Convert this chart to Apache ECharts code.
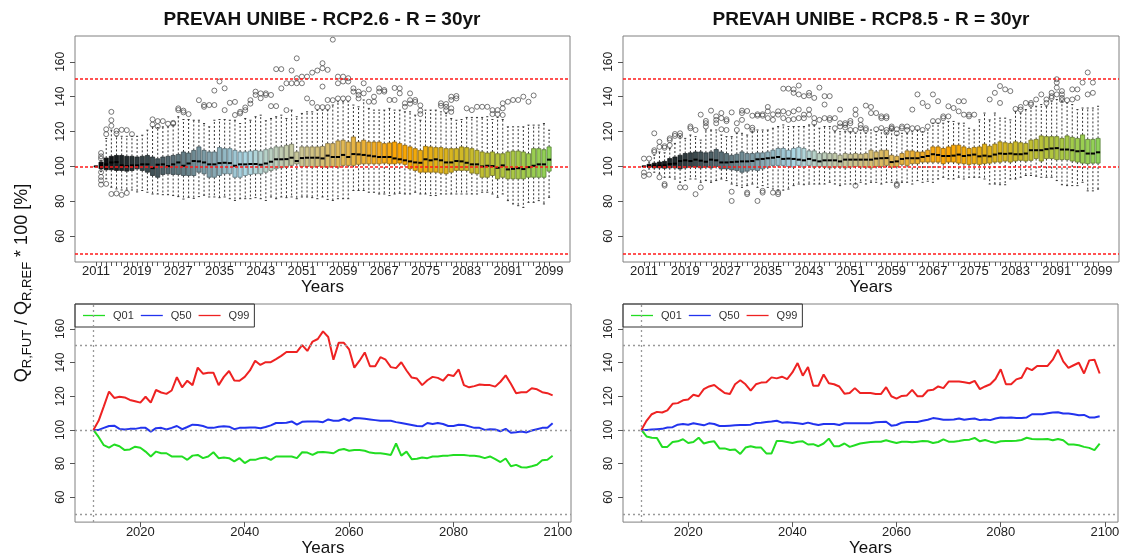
<!DOCTYPE html>
<html lang="en">
<head>
<meta charset="UTF-8">
<title>PREVAH UNIBE - R = 30yr</title>
<style>
    html, body { margin: 0; background: #fff; }
    #chart { width: 1123px; height: 558px; }
</style>
</head>
<body>
<div id="chart"></div>
<script src="https://cdn.jsdelivr.net/npm/echarts@6/dist/echarts.min.js"></script>
<script>
// years 2011..2099, one box per year
var years = [];
for (var yr = 2011; yr <= 2099; yr++) years.push(yr);
var boxLabelYears = [2011, 2019, 2027, 2035, 2043, 2051, 2059, 2067, 2075, 2083, 2091, 2099];
var lineLabelYears = [2020, 2040, 2060, 2080, 2100];
var yTicks = [60, 80, 100, 120, 140, 160];
var thresholds = [50, 100, 150];

// ---- RCP2.6 ----
var rcp26Q01 = [100,95.8,90.9,89.4,91.3,90.3,88,88.4,90,89.4, 87.1,84.2,87.1,86.1,86.1,84.2,84.2,84.2,82.2,84.7, 85.1,83.2,84.2,86.7,83.2,83.6,83.2,81.3,83.2,80.3,
    82.2,82.2,83.2,83.6,82.2,84.2,84.2,84.2,84.2,83.2, 86.7,86.5,85.1,86.7,86.9,86.5,86.1,88,88.6,87.6, 88,88,87.6,86.5,86.1,86.1,85.7,85.1,91.9,84.7,
    87.1,82.6,82.8,83.6,83.2,84.2,84.2,84.6,84.7,85.1, 85.1,85.1,84.7,84.6,84.2,83.2,84.2,82.6,80.9,83, 78.4,79.2,77.8,77.6,78.4,79.3,81.9,82.2,84.6];
var rcp26Q50 = [100,100,101.2,102.3,102.5,100.6,100.2,100.6,100.6,101.2, 101.2,99,101,101.2,100.2,101.2,102.3,100.4,101.7,103.1, 102.9,102.3,101.2,101.2,101.9,102.1,101.9,100.4,101.2,101.2,
    101.4,101.4,101,101.7,102.7,104.1,104.1,104.2,105,103.1, 104.8,105,105,105,104.6,106.2,105.4,105.4,106.6,105.4, 107.1,106.9,106.6,106.2,105.8,105.4,105.4,105.4,104.6,104.1,
    103.5,102.9,102.3,102.1,104.1,103.5,104.1,103.5,102.3,102.3, 103.1,102.9,102.1,101.2,101.2,100,100.4,100.2,99.2,100.6, 98.3,98.6,99,98.5,99.6,100.4,101.2,101.2,103.9];
var rcp26Q99 = [100,105.4,114,122.8,119,119.7,119.3,117.8,117,116.2, 119.7,116.2,123.7,122.2,121.4,123.4,131.3,125.3,129.2,126.6, 137,133.4,134,134,126.6,131.5,135,129.3,129.2,131.5,
    135.3,141.1,138.6,140.2,140.2,142,144,146.3,146.3,146.3, 150.4,146.9,152.5,154,158.5,155.2,141.7,151.7,151.7,147.9, 137,141.1,146,137.8,137.8,143.2,141.7,137.3,136.7,140.2,
    135.3,131.1,130.5,126.6,129.5,131.5,130.9,129.2,132.8,132, 135.9,126.6,125.3,126,127,126.6,126.6,125.7,128.6,132.4, 127.4,121.8,122.4,122.4,124.7,124.1,122.4,121.8,120.5];
var rcp26Low = [100,97,92.9,88.1,87.1,86.5,86.5,86.5,85.4,86.2, 85.2,84.2,84.2,83.8,83.8,83.3,82.7,81.3,82.3,81.7, 82.7,83.5,82.5,82.5,82.1,82.5,81.5,80.5,81.5,81.5,
    81.5,82.1,81.5,80.5,82.5,81.5,82.5,82.1,82.5,81.5, 82.5,82.5,82.1,81.5,82.5,81.1,80.5,81.5,81.5,81.5, 86.2,86.2,86.2,85.2,85.2,84.2,84.2,83.3,84.2,84.6,
    84.2,84.2,85.2,84.2,84.2,83.3,83.3,84.2,84.2,84.2, 84.2,84.2,84.2,84.2,84.2,85.2,85.2,84.2,82.3,84.2, 80.4,78.5,77.5,76.5,79.4,79.4,80.4,78.5,82.3];
var rcp26Box1 = [100,98.7,98.1,98.1,97.7,97.7,97.3,97.7,98.6,97.7, 96.7,94.8,93.8,95.4,95.8,95.4,95.4,94.8,94.8,94.8, 96.7,95.8,93.8,93.8,94.8,95.8,95.8,93.8,93.8,94.8,
    95.4,95.8,95.8,96.7,97.7,98.7,99.2,99.6,100.6,101.5, 100,100,99.6,100,99.6,99.6,100,99.6,100.6,100.6, 100.6,101.2,101.5,101.5,101.5,101.5,101.9,101.5,101.5,101.9,
    101.2,98.7,97.7,96.7,96.7,96.7,96.7,96.2,95.8,96.7, 97.7,97.7,97.7,96.2,95.8,93.8,93.8,94.8,92.9,93.8, 92.9,92.9,92.9,92.9,93.8,93.8,93.8,93.8,97.3];
var rcp26Box3 = [100,102.5,104.8,105.8,106.3,106.3,105.8,105.8,105.4,105.8, 106.3,105.4,104.4,105.4,105.8,106.3,106.9,108.3,107.7,109.2, 111.2,109.2,108.3,108.3,110.8,110.2,110.2,109.2,108.3,108.3,
    108.8,109.2,108.8,109.6,110.2,111.2,111.2,112.1,112.7,108.3, 111.2,111.2,111.2,111.2,111.5,113.1,113.1,114.6,115,114, 116.9,114,115,114,114,114,113.1,113.5,114,113.1,
    112.1,111.2,110.2,109.2,111.5,111.2,110.8,110.8,110.2,110.2, 110.2,111.2,110.8,110.2,109.2,108.3,107.7,108.3,107.3,107.3, 108.3,108.8,108.8,108.3,107.3,110.2,110.2,109.6,111.2];
var rcp26High = [100,103.5,116,120.8,117.3,117.3,117.3,117.3,117.3,117.9, 120.8,122.7,122.3,122.7,122.7,123.7,128.5,126.9,126.9,126.5, 126.5,124.6,122.7,126.5,126.9,126.9,126.5,126.5,124.6,127.5,
    126.5,128.5,129.4,126.2,127.5,128.5,129.4,127.5,132.3,128.5, 130.4,131.3,131.3,132.3,132.3,132.3,135.2,137.1,137.1,137.1, 135.2,134.2,138.1,133.3,132.3,132.3,132.3,133.3,132.3,132.3,
    131.3,131.3,129.4,126.5,132.3,132.3,132.3,131.3,130.4,127.5, 126.5,126.9,128.1,128.1,128.1,128.1,128.5,126.9,128.1,126.9, 122.7,122.7,122.7,122.7,123.7,123.7,123.7,124.6,120.8];
var rcp26Out = [
    [2012,104.4],[2012,105.8],[2012,107.7],[2012,96.7],[2012,94],[2012,92],[2012,89.6],
    [2013,118.5],[2013,121.3],[2013,90],[2014,131.3],[2014,126.5],[2014,123.3],[2014,84.2],
    [2015,120.4],[2015,118.8],[2015,84.5],[2016,121],[2016,83.7],[2017,120.8],[2017,84.8],[2018,118.5],
    [2022,127],[2022,124],[2023,126],[2023,123],[2024,126],[2025,124.5],[2026,125],[2026,124.5],
    [2027,133.3],[2027,132.3],[2028,132],[2028,131],[2029,130],[2031,138],[2032,134.2],[2032,135.2],
    [2033,135.2],[2034,135.2],[2034,143.5],[2035,148.7],[2036,144.8],[2036,132.3],[2037,136.5],
    [2038,137],[2038,129.5],[2039,130.4],[2039,131.3],[2040,132.3],[2040,133.8],[2041,138],[2041,136],
    [2042,142.9],[2042,141],[2043,141.9],[2043,139.1],[2044,141.9],[2044,141],[2045,141],[2045,134.6],
    [2046,155.8],[2046,134.6],[2047,155.8],[2047,144.8],[2048,147.7],[2048,132.3],[2049,147.7],[2049,155],
    [2050,150.6],[2050,147.7],[2050,162],[2051,151.5],[2051,147.7],[2052,151.5],[2052,139],
    [2053,153.8],[2053,136.5],[2054,155],[2054,134],[2055,159.2],[2055,156.3],[2055,145.8],[2055,134],
    [2056,155.4],[2056,138.1],[2056,134],[2057,172.7],[2057,138],[2058,151.5],[2058,147.7],[2058,139],
    [2059,151.5],[2059,148.7],[2059,139],[2060,150.6],[2060,148.7],[2060,139],[2061,144.8],[2061,142.9],
    [2062,142.9],[2062,141],[2062,139],[2063,147.7],[2063,141.9],[2064,144.2],[2064,137.1],[2065,140],[2065,137.1],
    [2066,144.8],[2066,142.9],[2067,143.8],[2067,142.9],[2068,138.1],[2069,138.1],[2069,145],[2070,144.8],[2070,141.9],
    [2071,136.2],[2071,134.2],[2072,141.9],[2072,138],[2072,136],[2073,138.1],[2073,137],[2074,135],[2074,132],[2074,130],
    [2078,136.2],[2078,134.8],[2079,135.8],[2079,134.2],[2079,132.3],[2080,140],[2080,138.1],[2080,133.3],[2080,131.3],
    [2081,140.4],[2081,139],[2083,133.3],[2084,132.3],[2085,134.2],[2086,134.2],[2087,134.2],[2088,132.3],[2088,130],
    [2089,132.3],[2089,130],[2090,136.2],[2090,133.3],[2090,129.5],[2091,137.1],[2092,138.1],[2093,138.1],
    [2094,140],[2095,137.1],[2096,140.7]
];

// ---- RCP8.5 ----
var rcp85Q01 = [100,96.1,95.3,95.2,89.9,89.9,92.8,93.2,94.4,92.2, 92.8,95.3,91.9,92.8,93.2,89,89,88,88.4,85.7, 89.5,90.3,89.5,89.5,86,86,93.4,93.4,92.8,92.2,
    93,93.2,91.3,91.5,90.3,91.9,94.8,90.3,90.3,91.9, 89.9,90.9,91.9,92.4,92.8,93,93,93.8,93,92.2, 93,93,92.6,93,93.4,93.2,92.2,92.8,94.4,93,
    93,93.4,94,94.2,95.2,93.2,94,93,92.4,93.2, 93.4,93.4,93.6,94,95.3,94.6,94.4,94.4,94.6,93.8, 94.6,93.8,91.3,91.3,90.9,89.9,89.3,88,91.9];
var rcp85Q50 = [100,100,100.2,100.4,100.6,101.4,101.6,103.1,103.5,103.1, 103.9,103.3,102.7,103.9,103.5,102.3,102.3,102.5,102.7,102.9, 102.9,103.1,104.1,104.3,104.7,105,105.4,104.3,104.5,104.3,
    103.9,103.5,104.3,103.5,102.9,103.5,103.5,103.5,102.9,103.9, 103.9,103.9,103.9,103.9,103.9,104.5,104.7,104.8,102.5,102.9, 104.3,104.7,104.7,104.7,105.4,106,107,106.6,106,106,
    106.2,106.8,106,106.4,106.8,105.8,106.2,105.8,106.8,107.4, 107.2,107.4,107,107,107.4,109.3,109.3,109.3,109.9,110.3, 110.5,109.7,109.7,109.3,108.7,108.9,107.4,107.4,108.1];
var rcp85Q99 = [100,105.4,109.3,110.7,110.3,111.6,115.5,115.9,117.6,118, 120.9,120,124.2,125.8,126.7,124.2,121.9,121.3,127.1,129.5, 127.1,123.3,127.1,128.1,128.3,131.2,130.6,131.6,130.2,134.1,
    139.7,132.2,137.4,126.2,126.2,132.9,127.7,127.1,125.8,121.5, 121.9,124.8,121.9,121.9,121.9,121.3,121.3,125.4,120,118.6, 120.2,120.5,123.8,120,120,123.4,123.8,125.8,124.8,128.7,
    128.7,128.7,128.3,127.7,129.1,124.2,125.8,127.1,130.2,136, 127.1,127.1,130,131,136.8,135.5,138,138,138,141.7, 147.7,140.7,136.8,138.4,139.9,133.5,141.3,141.7,133.5];
var rcp85Low = [100,98.5,96.7,95.7,93.8,93.8,92.8,90.9,91.9,92.8, 92.8,90.9,91.9,90.9,91.9,92.8,91.9,89.9,89,88, 89,89.9,88,89,88,87.1,86.4,86.4,87,89,
    89.9,89.5,89.9,89.9,89.9,89.9,90.9,89.9,89,89.9, 89.9,89.9,90.9,89.9,90.9,90.9,89.9,90.9,90.9,90.9, 90.9,90.9,89.9,91.9,90.9,91.5,90.9,92.8,93.8,92.8,
    92.8,93.8,92.8,93.8,93.8,93.8,92.8,89.9,89.9,89.5, 89.5,92.8,92.8,93.8,94.8,94.8,94.4,93.8,93.8,93.8, 91.9,89.5,89,89,89,90.9,86,86,87];
var rcp85Box1 = [100,99.6,99.2,99.2,99,99.2,99.2,98.6,99.2,99.6, 99.6,99.2,99.6,99.2,100,98.6,98.6,98.1,97.7,96.7, 97.3,98.1,97.7,98.6,99.6,100.6,100.6,100.6,100,99.6,
    100.6,99.6,100.6,99.6,100,99.6,99.2,99.6,99.6,99.2, 99.6,100,99.6,99.6,99.2,100,100,100.6,99.6,100, 101.2,100.6,101.6,101.6,102.5,102.5,102.5,102.5,101.6,102.5,
    102.5,101.9,101.6,101.2,101.6,101.2,101.6,101.9,102.5,102.5, 103.1,102.5,103.1,103.5,103.1,103.5,104.5,103.1,104.5,104.5, 103.9,103.9,103.9,103.1,102.5,101.9,101.6,101.9,101.9];
var rcp85Box3 = [100,101.2,101.9,102.5,102.9,104.5,105.4,106.4,107.4,107.8, 108.3,108.3,107.8,108.3,109.7,108.3,107.4,106.4,107,108.3, 107.4,107.4,107.8,107.8,108.3,109.3,110.3,110.3,109.3,110.3,
    110.9,110.3,108.9,108.9,107.4,107.8,107.4,107.4,106.4,107.4, 107,107.4,107,107.4,109.3,108.3,109.3,109.3,106.4,105.8, 107.4,108.9,108.9,108.3,108.3,109.3,111.2,111.2,110.3,111.2,
    112.2,112.2,111.2,110.3,110.9,111.2,112.8,111.6,112.8,114.1, 113.6,113.2,114.1,113.6,113.2,115.1,115.5,117.5,117.1,117.1, 117.1,116.1,117.5,116.7,116.1,118.1,115.5,115.5,116.1];
var rcp85High = [100,102.5,106.4,108.3,107.8,110.3,113.2,117.1,116.1,118, 117.1,115.1,120.9,120.9,120.9,118,117.1,117.1,119,119, 118,119.9,120.9,120.9,120.9,121.9,122.9,123.8,122.9,122.9,
    122.9,122.9,123.8,123.8,121.9,122.9,122.9,119.9,119.9,119.9, 119.9,119,120.9,119,120.9,119.9,120.9,119,120.9,118, 119,119,119.9,120.9,119.9,120.9,124.8,124.8,124.8,125.8,
    125.8,124.8,124.8,121.9,120.9,126.7,130.6,126.7,130.6,127.7, 127.7,126.7,131.6,130.6,132.6,133.5,134.5,135.5,134.5,137.4, 138.4,137.4,136.4,135.5,132.6,133.5,133.5,133.5,134.5];
var rcp85Out = [
    [2011,104.5],[2011,96.5],[2011,94.5],[2012,104.5],[2012,95.3],[2013,108.3],[2013,109.3],[2013,119],
    [2014,111.2],[2014,114.1],[2014,93.8],[2015,110.7],[2015,111.6],[2015,89.9],[2015,89],
    [2016,112.2],[2016,115.1],[2016,116.1],[2017,118.6],[2017,117.5],[2018,119],[2018,117.5],[2018,88],
    [2019,88],[2020,122.9],[2020,121.9],[2021,84.1],[2021,120.9],[2022,129.7],[2022,88],
    [2023,126.1],[2023,124.8],[2023,122.9],[2024,132],[2025,128.7],[2025,126.7],[2025,124.8],
    [2026,130.6],[2026,127.7],[2026,121.3],[2027,127],[2027,126],[2027,120.9],[2028,80.2],[2028,131],[2028,85.5],
    [2029,124.8],[2029,120.9],[2030,132],[2030,130.6],[2030,126.7],[2031,131.8],[2031,122.9],[2031,84.1],[2031,85],
    [2032,129.1],[2032,122.2],[2032,120.9],[2033,129.9],[2033,129.1],[2033,80.2],[2034,129.9],[2034,129.1],[2034,85],[2034,86],
    [2035,134.1],[2035,131.6],[2035,127.7],[2036,129.9],[2036,126.7],[2036,85],[2037,131.6],[2037,129.7],[2037,84.1],[2037,85.2],
    [2038,144.6],[2038,131.6],[2038,127.7],[2039,144.6],[2039,130.6],[2039,126.7],[2040,144.2],[2040,142.2],[2040,131.6],[2040,127.1],
    [2041,146.4],[2041,141.3],[2041,132.6],[2041,127.7],[2042,140.3],[2042,129.7],[2042,127.7],
    [2043,142.2],[2043,140.7],[2043,132.6],[2043,129.7],[2044,139.3],[2044,127.7],[2044,125],[2045,145.2],[2045,126.7],
    [2046,140.3],[2046,135.5],[2046,127.7],[2047,140.3],[2047,127.7],[2047,126.7],[2048,127.7],[2048,121.9],
    [2049,132.6],[2049,124.8],[2049,122.9],[2050,124.8],[2050,123.8],[2050,122.3],[2051,126.1],[2051,124.8],[2051,120.9],
    [2052,132.6],[2052,129.7],[2052,120.9],[2052,89],[2053,126.7],[2053,123.8],[2053,122],[2054,134.9],[2054,121.9],[2054,120.9],
    [2055,134.1],[2055,130.6],[2056,130.6],[2056,121.3],[2057,128.7],[2057,127.7],[2057,122],
    [2058,128.7],[2058,127.7],[2058,120.9],[2058,119.5],[2059,122.9],[2059,122],[2059,121.5],
    [2060,121.3],[2060,119],[2060,89.9],[2060,89],[2061,122.9],[2061,121.9],[2062,122.9],[2062,120.9],
    [2063,132.6],[2063,121.9],[2064,141.3],[2064,122],[2065,136.4],[2065,120.9],[2066,134.5],[2066,122.9],
    [2067,141.3],[2067,126],[2068,137.4],[2068,126],[2069,128.7],[2069,127.7],[2070,134.5],[2070,128.7],
    [2071,133.5],[2072,137.4],[2072,131.6],[2073,137.4],[2073,129.7],[2074,129.7],[2074,128.7],[2075,129.7],
    [2078,138.4],[2079,142.2],[2080,146.1],[2080,136.4],[2081,144.2],[2082,143.2],[2083,133],
    [2084,132.6],[2084,134.1],[2085,136.4],[2086,136.4],[2086,135.5],[2087,138.4],[2088,141.3],
    [2089,138.4],[2089,136.4],[2090,142.2],[2090,140.3],[2090,139.3],[2091,150],[2091,148.1],[2091,145.2],[2091,141.3],
    [2092,143.2],[2092,141.3],[2092,139.3],[2092,138],[2093,138],[2094,144.2],[2094,138.4],[2095,144.2],[2095,139.3],
    [2096,148.1],[2097,153.9],[2097,141.3],[2098,148.1],[2098,142.2]
];

// colour ramp of the boxes: black -> lightblue -> orange -> green
var boxRamp = ['#000000', '#add8e6', '#ffa500', '#8fd35a'];

function hexRgb(h) {
    return [parseInt(h.substr(1, 2), 16), parseInt(h.substr(3, 2), 16), parseInt(h.substr(5, 2), 16)];
}
function rampColor(t, dark) {
    var n = boxRamp.length - 1;
    var s = Math.min(n - 1, Math.floor(t * n));
    var f = t * n - s;
    var a = hexRgb(boxRamp[s]), b = hexRgb(boxRamp[s + 1]);
    var k = dark ? 0.6 : 1;
    var c = [0, 1, 2].map(function (j) { return Math.round((a[j] + (b[j] - a[j]) * f) * k); });
    return 'rgb(' + c.join(',') + ')';
}

function boxData(low, q1, med, q3, high) {
    return years.map(function (y, i) { return [y, low[i], q1[i], med[i], q3[i], high[i]]; });
}
function lineData(arr) {
    return years.map(function (y, i) { return [y, arr[i]]; });
}

function renderBox(params, api) {
    var x = api.value(0);
    var lo = api.coord([x, api.value(1)]);
    var b1 = api.coord([x, api.value(2)]);
    var md = api.coord([x, api.value(3)]);
    var b3 = api.coord([x, api.value(4)]);
    var hi = api.coord([x, api.value(5)]);
    var left = api.coord([x - 0.4, api.value(3)])[0];
    var right = api.coord([x + 0.4, api.value(3)])[0];
    var w = right - left, cx = md[0];
    var t = params.dataIndex / (years.length - 1);
    var whisk = { stroke: '#333', lineWidth: 1, lineDash: [2, 2] };
    var staple = { stroke: '#333', lineWidth: 1 };
    return {
        type: 'group',
        children: [
            { type: 'line', shape: { x1: cx, y1: b3[1], x2: cx, y2: hi[1] }, style: whisk },
            { type: 'line', shape: { x1: cx, y1: b1[1], x2: cx, y2: lo[1] }, style: whisk },
            { type: 'line', shape: { x1: cx - w / 4, y1: hi[1], x2: cx + w / 4, y2: hi[1] }, style: staple },
            { type: 'line', shape: { x1: cx - w / 4, y1: lo[1], x2: cx + w / 4, y2: lo[1] }, style: staple },
            { type: 'rect', shape: { x: left, y: b3[1], width: w, height: b1[1] - b3[1] },
              style: { fill: rampColor(t, false), stroke: rampColor(t, true), lineWidth: 0.8 } },
            { type: 'line', shape: { x1: left, y1: md[1], x2: right, y2: md[1] }, style: { stroke: '#000', lineWidth: 2 } }
        ]
    };
}

var chart = echarts.init(document.getElementById('chart'));

var gridRects = [
    { left: 75, top: 36, width: 495, height: 226 },
    { left: 623, top: 36, width: 496, height: 226 },
    { left: 75, top: 304, width: 496, height: 223 },
    { left: 623, top: 304, width: 495, height: 223 }
];

function yAxisFor(g) {
    return {
        type: 'value', gridIndex: g, min: 45.2, max: 174.8,
        axisLine: { show: false }, splitLine: { show: false },
        axisTick: { show: true, length: 5, customValues: yTicks, lineStyle: { color: '#555' } },
        axisLabel: { customValues: yTicks, rotate: 90, margin: 8, fontSize: 12, color: '#222' }
    };
}
function boxXAxis(g) {
    return {
        type: 'value', gridIndex: g, min: 2006.94, max: 2103.06,
        axisLine: { show: false }, splitLine: { show: false },
        axisTick: { show: true, length: 4, customValues: years, lineStyle: { color: '#555' } },
        axisLabel: { customValues: boxLabelYears, margin: 3, fontSize: 13, color: '#222',
                     formatter: function (v) { return String(v); } },
        name: 'Years', nameLocation: 'middle', nameGap: 12,
        nameTextStyle: { fontSize: 17, color: '#111' }
    };
}
function lineXAxis(g) {
    return {
        type: 'value', gridIndex: g, min: 2007.48, max: 2102.52,
        axisLine: { show: false }, splitLine: { show: false },
        axisTick: { show: true, length: 5, customValues: lineLabelYears, lineStyle: { color: '#555' } },
        axisLabel: { customValues: lineLabelYears, margin: 4, fontSize: 13, color: '#222',
                     formatter: function (v) { return String(v); } },
        name: 'Years', nameLocation: 'middle', nameGap: 13,
        nameTextStyle: { fontSize: 17, color: '#111' }
    };
}

// reference lines (red dotted on the box panels, grey on the quantile panels)
function refLines(color, width, dash, withStart) {
    var d = thresholds.map(function (v) {
        return { yAxis: v, lineStyle: { color: color } };
    });
    if (withStart) d.push({ xAxis: years[0], lineStyle: { color: color } });
    return {
        silent: true, symbol: ['none', 'none'], label: { show: false },
        lineStyle: { color: color, type: dash, width: width },
        emphasis: { disabled: true },
        data: d
    };
}

function boxSeries(g, data, outliers) {
    return [
        { type: 'custom', xAxisIndex: g, yAxisIndex: g, renderItem: renderBox, data: data,
          encode: { x: 0, y: [1, 2, 3, 4, 5] }, z: 2 },
        { type: 'scatter', xAxisIndex: g, yAxisIndex: g, data: outliers, symbol: 'circle', symbolSize: 5,
          itemStyle: { color: 'rgba(0,0,0,0)', borderColor: '#444', borderWidth: 0.9 },
          markLine: refLines('#ff1a1a', 1.5, [3, 2], false), z: 3 }
    ];
}
function qSeries(g, q01, q50, q99) {
    var base = { type: 'line', xAxisIndex: g, yAxisIndex: g, symbol: 'none', showSymbol: false };
    return [
        Object.assign({}, base, { name: 'Q01', data: lineData(q01), lineStyle: { color: '#22dd22', width: 2 },
                                  itemStyle: { color: '#22dd22' }, markLine: refLines('#999999', 1.3, [2, 3], true) }),
        Object.assign({}, base, { name: 'Q50', data: lineData(q50), lineStyle: { color: '#2233ee', width: 2 },
                                  itemStyle: { color: '#2233ee' } }),
        Object.assign({}, base, { name: 'Q99', data: lineData(q99), lineStyle: { color: '#ee2222', width: 2 },
                                  itemStyle: { color: '#ee2222' } })
    ];
}

function legendAt(left) {
    return {
        left: left, top: 304, orient: 'horizontal', data: ['Q01', 'Q50', 'Q99'],
        icon: 'rect', itemWidth: 22, itemHeight: 1.3, itemGap: 7, padding: [6, 5, 6, 8],
        borderColor: '#333', borderWidth: 1, selectedMode: false,
        textStyle: { fontSize: 11, color: '#333', padding: [0, 0, 0, 3] }
    };
}

var option = {
    animation: false,
    backgroundColor: '#fff',
    textStyle: { fontFamily: 'Liberation Sans, Arial, sans-serif' },
    title: [
        { text: 'PREVAH UNIBE - RCP2.6 - R = 30yr', left: 322, top: 10, textAlign: 'center', padding: 0,
          textStyle: { fontSize: 19, fontWeight: 'bold', color: '#111' } },
        { text: 'PREVAH UNIBE - RCP8.5 - R = 30yr', left: 871, top: 10, textAlign: 'center', padding: 0,
          textStyle: { fontSize: 19, fontWeight: 'bold', color: '#111' } }
    ],
    legend: [legendAt(75), legendAt(623)],
    grid: gridRects.map(function (r) {
        return Object.assign({ show: true, borderColor: '#808080', borderWidth: 1, containLabel: false }, r);
    }),
    xAxis: [boxXAxis(0), boxXAxis(1), lineXAxis(2), lineXAxis(3)],
    yAxis: [yAxisFor(0), yAxisFor(1), yAxisFor(2), yAxisFor(3)],
    graphic: [{
        type: 'text', x: 22, y: 283, rotation: Math.PI / 2, silent: true,
        style: {
            text: '{b|Q}{s|R,FUT}{b| / Q}{s|R,REF}{b| * 100 [%]}',
            align: 'center', verticalAlign: 'middle',
            rich: {
                b: { fontSize: 18, lineHeight: 24, verticalAlign: 'middle', fill: '#111',
                     fontFamily: 'Liberation Sans, Arial, sans-serif' },
                s: { fontSize: 13, lineHeight: 13, verticalAlign: 'bottom', fill: '#111',
                     fontFamily: 'Liberation Sans, Arial, sans-serif' }
            }
        }
    }],
    series: [].concat(
        boxSeries(0, boxData(rcp26Low, rcp26Box1, rcp26Q50, rcp26Box3, rcp26High), rcp26Out),
        boxSeries(1, boxData(rcp85Low, rcp85Box1, rcp85Q50, rcp85Box3, rcp85High), rcp85Out),
        qSeries(2, rcp26Q01, rcp26Q50, rcp26Q99),
        qSeries(3, rcp85Q01, rcp85Q50, rcp85Q99)
    )
};

chart.setOption(option);
</script>
</body>
</html>
